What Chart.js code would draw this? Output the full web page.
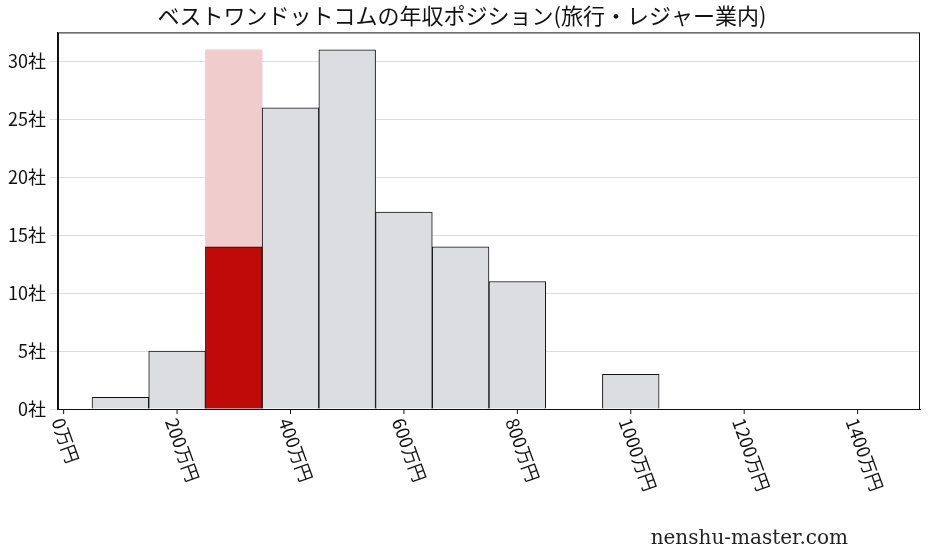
<!DOCTYPE html>
<html><head><meta charset="utf-8">
<script src="https://cdn.jsdelivr.net/npm/chart.js@4/dist/chart.umd.min.js"></script>
<style>body{margin:0;background:#fff}#w{width:928px;height:557px;position:relative}
#wm{position:absolute;right:80px;bottom:8px;font:20px "DejaVu Serif",serif;color:#222}</style>
</head><body><div id="w"><canvas id="c" width="928" height="557"></canvas><div id="wm">nenshu-master.com</div></div>
<script>
const binCenters=[100,200,300,400,500,600,700,800,900,1000,1100,1200,1300,1400];
const counts=[1,5,14,26,31,17,14,11,0,3,0,0,0,0];
const highlightX=300, highlightCount=14, highlightBg=31;
const xTicks=[0,200,400,600,800,1000,1200,1400];
const yTicks=[0,5,10,15,20,25,30];
const F='"Noto Sans CJK JP", sans-serif';
const main=binCenters.map((x,i)=>({x,y:counts[i]}));
const deco={id:'deco',afterDraw(ch){
  const c=ch.ctx,a=ch.chartArea,xs=ch.scales.x;
  c.save();c.strokeStyle='#111';c.lineWidth=1;
  c.strokeRect(a.left+0.5,a.top+0.5,a.right-a.left-1,a.bottom-a.top);
  c.font='18px '+F;c.fillStyle='#111';c.textBaseline='middle';c.textAlign='left';
  xTicks.forEach(v=>{const px=xs.getPixelForValue(v);
    c.beginPath();c.moveTo(px,a.bottom);c.lineTo(px,a.bottom+5);c.stroke();
    c.save();c.translate(px-6,a.bottom+10);c.rotate(70*Math.PI/180);c.fillText(v+'万円',0,0);c.restore();});
  c.restore();}};
new Chart(document.getElementById('c'),{
 type:'bar',
 data:{datasets:[
  {data:[{x:highlightX,y:highlightCount}],backgroundColor:'#c00a0a',borderColor:'#111',borderWidth:1,grouped:false,order:0,barPercentage:1,categoryPercentage:1},
  {data:main.map(p=>p.x===highlightX?{x:p.x,y:0}:p),backgroundColor:'#dcdde0',borderColor:'#111',borderWidth:1,grouped:false,order:1,barPercentage:1,categoryPercentage:1},
  {data:[{x:highlightX,y:highlightBg}],backgroundColor:'#f0cccc',borderWidth:0,grouped:false,order:2,barPercentage:1,categoryPercentage:1}
 ]},
 options:{responsive:false,animation:false,
  layout:{padding:{left:4,right:8,top:0,bottom:140}},
  plugins:{legend:{display:false},tooltip:{enabled:false},
   title:{display:true,text:'ベストワンドットコムの年収ポジション(旅行・レジャー業内)',font:{family:F,size:22,weight:'normal'},color:'#111',padding:{top:2,bottom:4}}},
  scales:{
   x:{type:'linear',min:-10,max:1510,offset:false,
     afterBuildTicks:a=>{a.ticks=xTicks.map(v=>({value:v}));},
     ticks:{display:false},
     grid:{display:false},border:{color:'#111'}},
   y:{min:0,max:32.5,
     afterBuildTicks:a=>{a.ticks=yTicks.map(v=>({value:v}));},
     ticks:{callback:v=>v+'社',font:{family:F,size:18},color:'#111',padding:4},
     grid:{color:'#dddddd'},border:{color:'#111'}}
  }}
 ,plugins:[deco]});
</script></body></html>
